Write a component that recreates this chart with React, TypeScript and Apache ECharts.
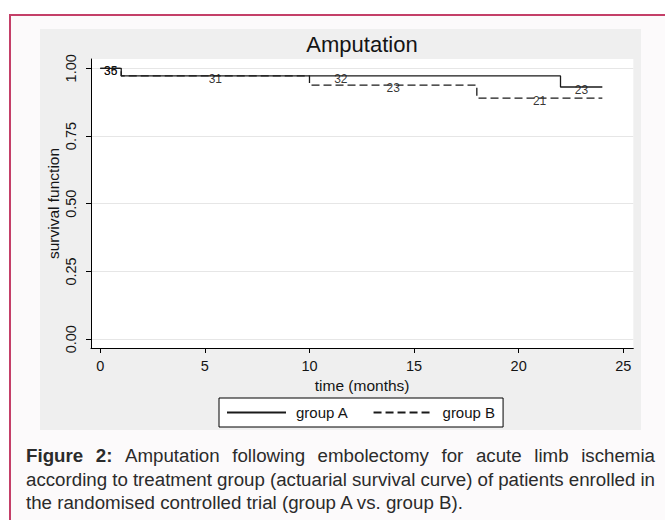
import React, { useEffect, useRef } from "react";
import * as echarts from "echarts";

const titleText = "Amputation";
const xAxisName = "time (months)";
const yAxisName = "survival function";
const xTicks = [0, 5, 10, 15, 20, 25];
const yTicks = [0, 0.25, 0.5, 0.75, 1];
const seriesNames = ["group A", "group B"];

// actuarial survival estimates (step functions)
const timeA = [0, 1, 22, 24];
const survA = [1.0, 0.972, 0.931, 0.931];
const timeB = [0, 1, 10, 18, 24];
const survB = [1.0, 0.972, 0.938, 0.89, 0.89];

// numbers at risk, printed at interval midpoints
const riskTimeA = [0.5, 11.5, 23];
const riskSurvA = [1.0, 0.972, 0.931];
const riskCountA = ["36", "32", "23"];
const riskTimeB = [0.5, 5.5, 14, 21];
const riskSurvB = [1.0, 0.972, 0.938, 0.89];
const riskCountB = ["35", "31", "23", "21"];

const captionBold = "Figure 2:";
const captionLine1 = "Amputation following embolectomy for acute limb ischemia";
const captionLine2 =
  "according to treatment group (actuarial survival curve) of patients enrolled in";
const captionLine3 = "the randomised controlled trial (group A vs. group B).";

const FONT = "'Liberation Sans', Arial, sans-serif";
const CAP_FONT = "'Liberation Sans', Arial, sans-serif";
const INK = "#141414";

function buildCaption(): any[] {
  const canvas = document.createElement("canvas");
  const ctx = canvas.getContext("2d") as CanvasRenderingContext2D;
  const fs = 18;
  const measure = (t: string, bold: boolean) => {
    ctx.font = `${bold ? "bold " : ""}${fs}px 'Liberation Sans'`;
    return ctx.measureText(t).width;
  };
  const left = 26;
  const right = 655;
  const target3 = 439;
  const s = target3 / measure(captionLine3, false);
  const ys = [456, 480, 503];
  const els: any[] = [];
  const mk = (text: string, x: number, y: number, bold: boolean) => ({
    type: "text",
    x,
    y,
    scaleX: s,
    silent: true,
    style: {
      text,
      fontSize: fs,
      fontFamily: CAP_FONT,
      fontWeight: bold ? "bold" : "normal",
      fill: "#2b2b2b",
      align: "left",
      verticalAlign: "middle",
    },
  });
  const lines = [
    [
      ...captionBold.split(" ").map((w) => ({ w, b: true })),
      ...captionLine1.split(" ").map((w) => ({ w, b: false })),
    ],
    captionLine2.split(" ").map((w) => ({ w, b: false })),
  ];
  lines.forEach((words, li) => {
    const widths = words.map((o) => measure(o.w, o.b) * s);
    const sum = widths.reduce((a, b) => a + b, 0);
    const gap = (right - left - sum) / (words.length - 1);
    let x = left;
    words.forEach((o, i) => {
      els.push(mk(o.w, x, ys[li], o.b));
      x += widths[i] + gap;
    });
  });
  els.push(mk(captionLine3, left, ys[2], false));
  return els;
}

export default function App() {
  const ref = useRef<HTMLDivElement>(null);

  useEffect(() => {
    if (!ref.current) return;
    const chart = echarts.init(ref.current, undefined, { renderer: "svg" });

    const riskLabel = {
      show: true,
      position: "inside",
      offset: [0, 3],
      fontSize: 12,
      fontFamily: FONT,
      color: "#000",
      formatter: (p: any) => String(p.value[2]),
    };

    chart.setOption({
      animation: false,
      backgroundColor: "transparent",
      textStyle: { fontFamily: FONT },
      grid: {
        left: 91,
        right: 31.7,
        top: 59,
        bottom: 172,
        show: true,
        backgroundColor: "#ffffff",
        borderWidth: 0,
      },
      legend: {
        data: seriesNames,
        left: 219,
        top: 398,
        orient: "horizontal",
        padding: [7, 8, 7, 7],
        itemWidth: 59,
        itemHeight: 14,
        itemGap: 24,
        backgroundColor: "#ffffff",
        borderColor: "#000000",
        borderWidth: 1,
        borderRadius: 0,
        itemStyle: { opacity: 0 },
        textStyle: {
          fontSize: 15,
          fontFamily: FONT,
          color: INK,
          padding: [0, 0, 0, 5],
          lineHeight: 14,
        },
      },
      xAxis: {
        type: "value",
        min: -0.445,
        max: 25.48,
        name: xAxisName,
        nameLocation: "middle",
        nameGap: 27,
        nameTextStyle: { fontSize: 15.5, color: INK, fontFamily: FONT },
        axisLine: { show: true, onZero: false, lineStyle: { color: "#000", width: 1 } },
        axisTick: { show: true, length: 5, customValues: xTicks, lineStyle: { color: "#000" } },
        axisLabel: {
          customValues: xTicks,
          fontSize: 14.5,
          color: INK,
          margin: 10,
          fontFamily: FONT,
        },
        splitLine: { show: false },
      },
      yAxis: {
        type: "value",
        min: -0.0325,
        max: 1.0343,
        name: yAxisName,
        nameLocation: "middle",
        nameRotate: 90,
        nameGap: 30,
        nameMoveOverlap: false,
        nameTextStyle: { fontSize: 15.5, color: INK, fontFamily: FONT },
        axisLine: { show: true, onZero: false, lineStyle: { color: "#000", width: 1 } },
        axisTick: { show: true, length: 5, customValues: yTicks, lineStyle: { color: "#000" } },
        axisLabel: {
          customValues: yTicks,
          rotate: 90,
          fontSize: 14.5,
          color: INK,
          margin: 13,
          fontFamily: FONT,
          formatter: (v: number) => v.toFixed(2),
        },
        splitLine: { show: true, lineStyle: { color: "#e6e6e6", width: 1 } },
      },
      graphic: [
        {
          type: "text",
          x: 362,
          y: 44,
          silent: true,
          style: {
            text: titleText,
            fontSize: 22,
            fontFamily: FONT,
            fill: INK,
            align: "center",
            verticalAlign: "middle",
          },
        },
        ...buildCaption(),
      ],
      series: [
        {
          name: seriesNames[0],
          type: "line",
          step: "end",
          symbol: "none",
          data: timeA.map((t, i) => [t, survA[i]]),
          lineStyle: { color: "#1a1a1a", width: 1.3, type: "solid" },
          itemStyle: { color: "#1a1a1a" },
        },
        {
          name: seriesNames[1],
          type: "line",
          step: "end",
          symbol: "none",
          data: timeB.map((t, i) => [t, survB[i]]),
          lineStyle: { color: "#1a1a1a", width: 1.3, type: [8, 4] },
          itemStyle: { color: "#1a1a1a" },
        },
        {
          name: "at risk A",
          type: "scatter",
          symbolSize: 0.01,
          itemStyle: { color: "#000" },
          data: riskTimeA.map((t, i) => [t, riskSurvA[i], riskCountA[i]]),
          label: riskLabel,
          silent: true,
        },
        {
          name: "at risk B",
          type: "scatter",
          symbolSize: 0.01,
          itemStyle: { color: "#000" },
          data: riskTimeB.map((t, i) => [t, riskSurvB[i], riskCountB[i]]),
          label: riskLabel,
          silent: true,
        },
      ],
    });

    return () => chart.dispose();
  }, []);

  return (
    <div
      style={{
        position: "fixed",
        left: 0,
        top: 0,
        width: 665,
        height: 520,
        overflow: "hidden",
        background: "#ffffff",
      }}
    >
      <div
        style={{
          position: "absolute",
          left: 9,
          top: 14,
          width: 700,
          height: 600,
          boxSizing: "border-box",
          border: "2px solid #c43f68",
          background: "#fcfafb",
        }}
      />
      <div
        style={{
          position: "absolute",
          left: 40,
          top: 29,
          width: 601,
          height: 401,
          background: "#efefef",
        }}
      />
      <div
        ref={ref}
        style={{ position: "absolute", left: 0, top: 0, width: 665, height: 520 }}
      />
    </div>
  );
}
